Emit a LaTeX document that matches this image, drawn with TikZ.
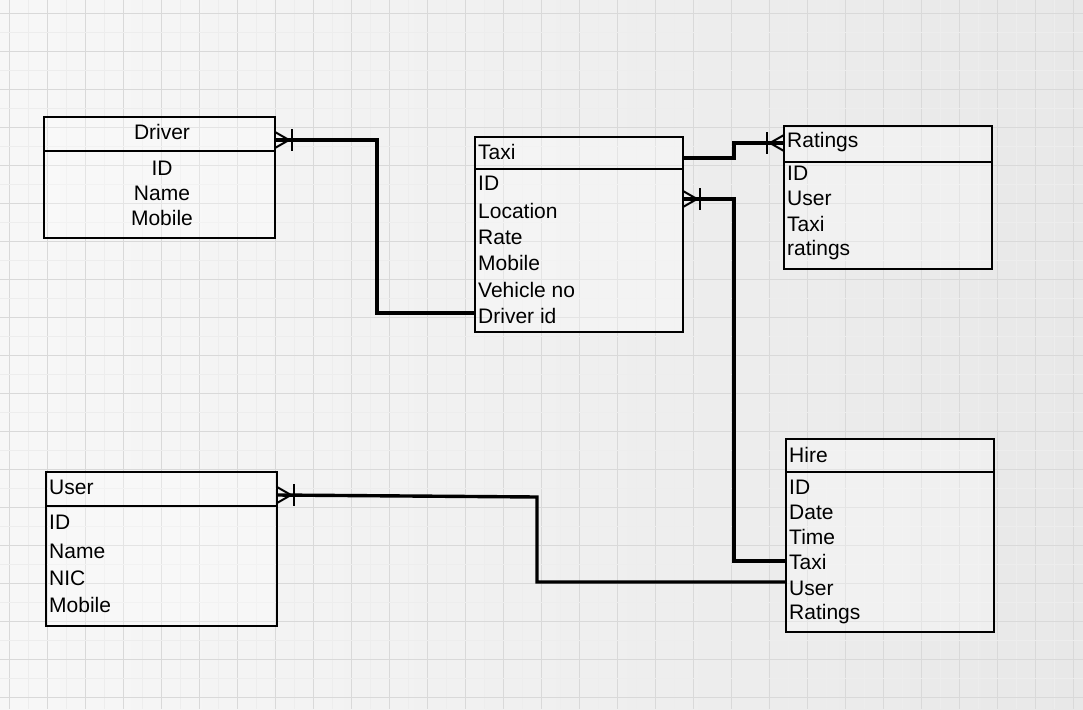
\documentclass[tikz,border=0pt]{standalone}
\usepackage{fontspec}
\setmainfont{Liberation Sans}
\usetikzlibrary{calc}
\begin{document}
\begin{tikzpicture}[x=1pt,y=-1pt,
  ent/.style={draw=black, line width=2.2pt, fill=white, fill opacity=0.3, draw opacity=1, anchor=north west, inner sep=0pt, outer sep=0pt},
  sep/.style={draw=black, line width=2.2pt},
  lbl/.style={font=\fontsize{21}{25}\selectfont, inner sep=0pt, anchor=west, text=black},
  clbl/.style={lbl, anchor=center},
  rel/.style={draw=black, line width=3.4pt, line join=miter},
  foot/.style={draw=black, line width=2pt},
  crow/.pic={\draw[foot] (0,-8) -- (14,0) -- (0,8); \draw[foot] (17,-11) -- (17,11);},
  gmaj/.style={draw=gray!30, line width=0.9pt},
  gmin/.style={draw=gray!14, line width=0.6pt}]
\useasboundingbox (0,0) rectangle (1083,709);
% background paper and grid
\shade[left color=gray!6, right color=gray!18] (0,0) rectangle (1083,709);
\foreach \k in {0,...,28} {
  \draw[gmin] (28+38*\k,0) -- ++(0,709);
  \draw[gmaj] (9+38*\k,0) -- ++(0,709);
}
\foreach \k in {0,...,19} {
  \draw[gmin] (0,32+38*\k) -- ++(1083,0);
  \draw[gmaj] (0,13+38*\k) -- ++(1083,0);
}
% Driver
\node[ent, minimum width=231pt, minimum height=121pt] (driver) at (44,117) {};
\draw[sep] (driver.west |- 0,151) -- (driver.east |- 0,151);
\node[clbl] (driverT) at (162,132) {Driver};
\node[clbl] (driver1) at (162,168) {ID};
\node[clbl] (driver2) at (162,193) {Name};
\node[clbl] (driver3) at (162,218) {Mobile};
% Taxi
\node[ent, minimum width=208pt, minimum height=195pt] (taxi) at (475,137) {};
\draw[sep] (taxi.west |- 0,169) -- (taxi.east |- 0,169);
\node[lbl] (taxiT) at (478,152) {Taxi};
\node[lbl] (taxi1) at (478,183) {ID};
\node[lbl] (taxi2) at (478,211) {Location};
\node[lbl] (taxi3) at (478,237) {Rate};
\node[lbl] (taxi4) at (478,263) {Mobile};
\node[lbl] (taxi5) at (478,290) {Vehicle no};
\node[lbl] (taxi6) at (478,316) {Driver id};
% Ratings
\node[ent, minimum width=208pt, minimum height=143pt] (ratings) at (784,126) {};
\draw[sep] (ratings.west |- 0,162) -- (ratings.east |- 0,162);
\node[lbl] (ratingsT) at (787,142) {Ratings};
\node[lbl] (ratings1) at (787,173) {ID};
\node[lbl] (ratings2) at (787,198) {User};
\node[lbl] (ratings3) at (787,224) {Taxi};
\node[lbl] (ratings4) at (787,250) {ratings};
% User
\node[ent, minimum width=231pt, minimum height=154pt] (user) at (46,472) {};
\draw[sep] (user.west |- 0,506) -- (user.east |- 0,506);
\node[lbl] (userT) at (49,487) {User};
\node[lbl] (user1) at (49,522) {ID};
\node[lbl] (user2) at (49,551) {Name};
\node[lbl] (user3) at (49,578) {NIC};
\node[lbl] (user4) at (49,605) {Mobile};
% Hire
\node[ent, minimum width=208pt, minimum height=193pt] (hire) at (786,439) {};
\draw[sep] (hire.west |- 0,472) -- (hire.east |- 0,472);
\node[lbl] (hireT) at (789,455) {Hire};
\node[lbl] (hire1) at (789,487) {ID};
\node[lbl] (hire2) at (789,512) {Date};
\node[lbl] (hire3) at (789,537) {Time};
\node[lbl] (hire4) at (789,562) {Taxi};
\node[lbl] (hire5) at (789,588) {User};
\node[lbl] (hire6) at (789,614) {Ratings};
% relationships
\draw[rel] (driver.east |- 0,140) -- (377,140) -- (377,313) -- (taxi.west |- 0,313);
\pic at (driver.east |- 0,140) {crow};
\draw[rel] (taxi.east |- 0,158) -- (734,158) -- (734,143) -- (ratings.west |- 0,143);
\pic[xscale=-1] at (ratings.west |- 0,143) {crow};
\draw[rel] (taxi.east |- 0,199) -- (734,199) -- (734,561) -- (hire.west |- 0,561);
\pic at (taxi.east |- 0,199) {crow};
\draw[rel] (user.east |- 0,495) -- (537,497) -- (537,582) -- (hire.west |- 0,582);
\pic at (user.east |- 0,495) {crow};
\end{tikzpicture}
\end{document}
